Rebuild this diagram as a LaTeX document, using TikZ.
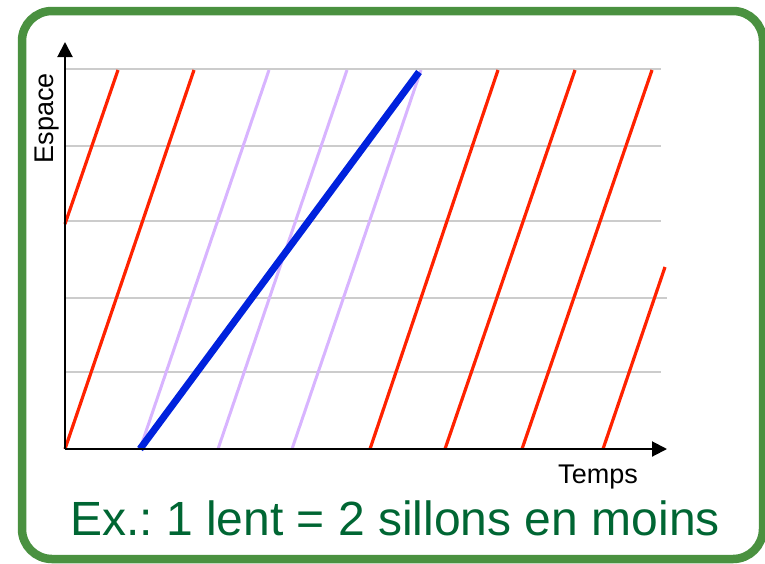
\documentclass[tikz,border=0pt]{standalone}
\usepackage{fontspec}
\setmainfont{Liberation Sans}
\frenchspacing
\usetikzlibrary{arrows.meta}
\definecolor{framegreen}{HTML}{4A9140}
\definecolor{textgreen}{HTML}{006633}
\definecolor{pathred}{HTML}{FF2200}
\definecolor{pathlav}{HTML}{D8B4FF}
\definecolor{pathblue}{HTML}{0022DD}
\definecolor{gridgray}{HTML}{CCCCCC}
\tikzset{
  gridline/.style={draw=gridgray, line width=2pt},
  redpath/.style={draw=pathred, line width=3.2pt},
  lavpath/.style={draw=pathlav, line width=3pt},
  bluepath/.style={draw=pathblue, line width=7pt},
  axisline/.style={draw=black, line width=2pt, -{Triangle[width=15pt,length=15pt]}},
  axislabel/.style={font=\fontsize{27}{32}\selectfont, inner sep=0pt},
  caption/.style={font=\fontsize{48}{56}\selectfont, text=textgreen, inner sep=0pt, anchor=base},
  frame/.style={draw=framegreen, line width=8.5pt, rounded corners=30pt}
}
\begin{document}
\begin{tikzpicture}[x=1pt,y=-1pt]
\useasboundingbox (0,0) rectangle (765,563);
% frame
\draw[frame] (22,11) rectangle (763,559);
% grid lines
\draw[gridline] (64,69) -- (661,69);
\draw[gridline] (64,146) -- (661,146);
\draw[gridline] (64,221) -- (661,221);
\draw[gridline] (64,298) -- (667,298);
\draw[gridline] (64,372) -- (661,372);
% lavender (cancelled) paths
\draw[lavpath] (140,449) -- (269,70);
\draw[lavpath] (218,449) -- (347,70);
\draw[lavpath] (292,449) -- (421,70);
% red paths
\draw[redpath] (65,224) -- (118,70);
\draw[redpath] (65,449) -- (194,70);
\draw[redpath] (370,449) -- (498,70);
\draw[redpath] (445,449) -- (575,70);
\draw[redpath] (522,449) -- (652,70);
\draw[redpath] (603,449) -- (665,267);
% slow train
\draw[bluepath] (140,449) -- (419,72);
% axes
\coordinate (O) at (65,449);
\coordinate (ytip) at (65,42);
\coordinate (xtip) at (667,449);
\draw[axisline] (O) -- (ytip);
\draw[axisline] (O) -- (xtip);
% labels
\node[axislabel, rotate=90] (esp) at (47,118) {Espace};
\node[axislabel] (tmp) at (598,477) {Temps};
\node[caption] (cap) at (395,535) {Ex.: 1 lent = 2 sillons en moins};
\end{tikzpicture}
\end{document}
